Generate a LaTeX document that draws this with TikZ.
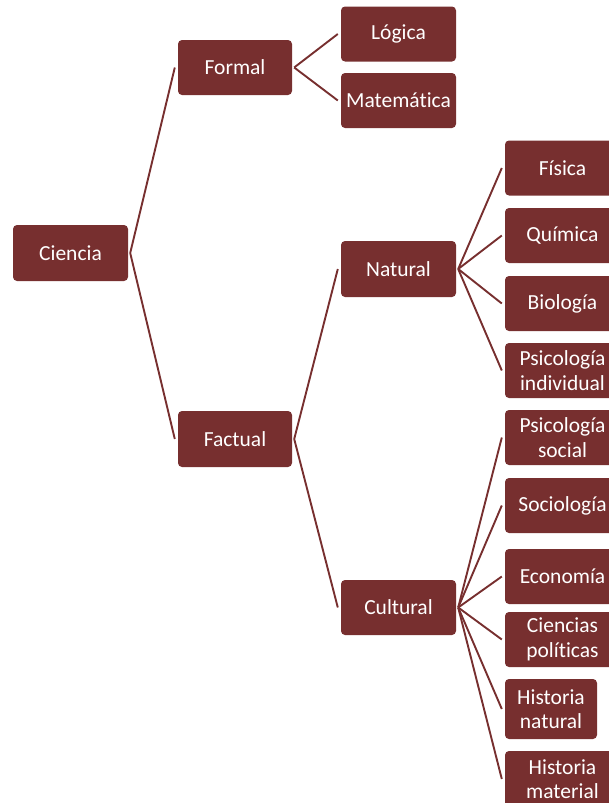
\documentclass[tikz,border=0pt]{standalone}
\usepackage{fontspec}
\setmainfont{Carlito}[Ligatures=NoCommon]
\definecolor{maroon}{RGB}{119,47,47}
\tikzset{
  box/.style={fill=maroon, rounded corners=4pt, text=white, inner sep=0pt,
    minimum width=115pt, minimum height=55pt, align=center,
    font=\fontsize{21.5}{24.5}\selectfont},
  link/.style={draw=maroon, line width=1.9pt}
}
\begin{document}
\begin{tikzpicture}[x=1pt,y=-1pt]
\useasboundingbox (0,0) rectangle (609,803);
% tree nodes, left to right
\node[box, minimum height=56pt] (ciencia) at (70.5,253) {Ciencia};
\node[box, minimum width=114pt] (formal) at (235,67.5) {Formal};
\node[box, minimum width=114pt, minimum height=56pt] (factual) at (235,439) {Factual};
\node[box] (logica) at (398.5,34) {Lógica};
\node[box] (matematica) at (398.5,100.5) {Matemática};
\node[box, minimum height=56pt] (natural) at (398.5,269) {Natural};
\node[box] (cultural) at (398.5,607.5) {Cultural};
\node[box] (fisica) at (562.5,168) {Física};
\node[box] (quimica) at (562.5,235.5) {Química};
\node[box] (biologia) at (562.5,303.5) {Biología};
\node[box] (psicind) at (562.5,370.5) {Psicología\\individual};
\node[box] (psicsoc) at (562.5,437.5) {Psicología\\social};
\node[box] (sociologia) at (562.5,505.5) {Sociología};
\node[box] (economia) at (562.5,576.5) {Economía};
\node[box] (cpoliticas) at (562.5,639.5) {Ciencias\\políticas};
\node[box, minimum width=92pt, minimum height=60pt] (hnatural) at (551,709) {Historia\\natural};
\node[box, minimum height=56pt] (hmaterial) at (562.5,779) {Historia\\material};
% connectors
\foreach \p/\c in {ciencia/formal, ciencia/factual,
    formal/logica, formal/matematica,
    factual/natural, factual/cultural,
    natural/fisica, natural/quimica, natural/biologia, natural/psicind,
    cultural/psicsoc, cultural/sociologia, cultural/economia,
    cultural/cpoliticas, cultural/hnatural, cultural/hmaterial}
  \draw[link] ([xshift=2pt]\p.east) -- ([xshift=-3pt]\c.west);
\end{tikzpicture}
\end{document}
